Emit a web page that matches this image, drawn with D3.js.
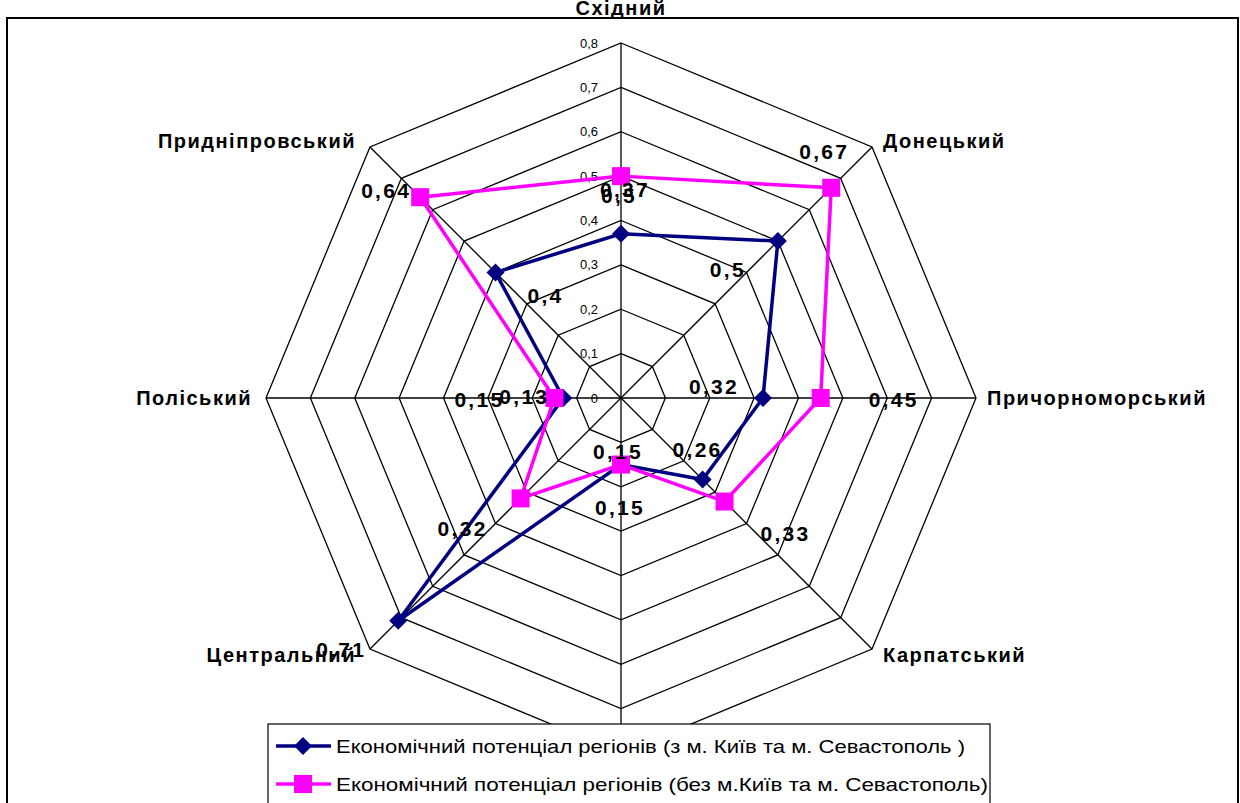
<!DOCTYPE html>
<html>
<head>
<meta charset="utf-8">
<script src="https://cdn.jsdelivr.net/npm/d3@7"></script>
<style>
  body { margin: 0; background: #fff; }
  svg { display: block; font-family: "Liberation Sans", Arial, sans-serif; }
</style>
</head>
<body>
<svg id="chart" width="1240" height="803"></svg>
<script>
// Economic regions of Ukraine, clockwise from the top axis
const regions = ["Східний", "Донецький", "Причорноморський", "Карпатський",
                 "Подільський", "Центральний", "Поліський", "Придніпровський"];

// Economic potential including Kyiv and Sevastopol
const withCities = [0.37, 0.5, 0.32, 0.26, 0.15, 0.71, 0.13, 0.4];
// Economic potential excluding Kyiv and Sevastopol
const withoutCities = [0.5, 0.67, 0.45, 0.33, 0.15, 0.32, 0.15, 0.64];

const seriesNames = [
  "Економічний потенціал регіонів (з м. Київ та м. Севастополь )",
  "Економічний потенціал регіонів (без м.Київ та м. Севастополь)"
];

const tickValues = [0, 0.1, 0.2, 0.3, 0.4, 0.5, 0.6, 0.7, 0.8];
const tickLabels = ["0", "0,1", "0,2", "0,3", "0,4", "0,5", "0,6", "0,7", "0,8"];

// Data label nudges (pixels from the marker) for each series
const nudgesWith = [[3, -44], [-51, 29], [-50, -11], [-6, -30], [-4, -13], [-58, 29], [-40, -1], [49, 23]];
const nudgesWithout = [[-3, 20], [-8, -36], [72, 2], [60, 32], [-2, 43], [-59, 30], [-76, 2], [-35, -7]];

const svg = d3.select("#chart");
const cx = 621, cy = 398, R = 355;
const r = d3.scaleLinear().domain([0, 0.8]).range([0, R]);
const angle = i => i * 2 * Math.PI / regions.length;
const pt = (i, v) => [cx + r(v) * Math.sin(angle(i)), cy - r(v) * Math.cos(angle(i))];

// outer chart frame
svg.append("rect").attr("x", 7).attr("y", 18).attr("width", 1231).attr("height", 900)
  .attr("fill", "#fff").attr("stroke", "#000").attr("stroke-width", 2);

const g = svg.append("g");

// octagonal grid rings
const ring = d3.lineRadial()
  .angle((d, i) => angle(i))
  .radius(d => r(d))
  .curve(d3.curveLinearClosed);

tickValues.filter(t => t > 0).forEach(t => {
  g.append("path")
    .attr("transform", `translate(${cx},${cy})`)
    .attr("d", ring(regions.map(() => t)))
    .attr("fill", "none").attr("stroke", "#000").attr("stroke-width", 1.3);
});

// spokes
regions.forEach((name, i) => {
  const [x, y] = pt(i, 0.8);
  g.append("line").attr("x1", cx).attr("y1", cy).attr("x2", x).attr("y2", y)
    .attr("stroke", "#000").attr("stroke-width", 1.3);
});

// value axis labels along the top spoke
g.selectAll("text.tick").data(tickValues).enter().append("text")
  .attr("class", "tick")
  .attr("x", cx - 23)
  .attr("y", d => cy - r(d))
  .attr("dy", "0.35em")
  .attr("text-anchor", "end")
  .attr("font-size", 13)
  .attr("fill", "#000")
  .text((d, i) => tickLabels[i]);

// series
const series = [
  { values: withCities, color: "#000080", shape: "diamond", nudges: nudgesWith },
  { values: withoutCities, color: "#ff00ff", shape: "square", nudges: nudgesWithout }
];

const lineGen = d3.line().curve(d3.curveLinearClosed);

function drawMarker(sel, shape, color, x, y) {
  if (shape === "diamond") {
    sel.append("path")
      .attr("d", `M${x},${y - 9}L${x + 9},${y}L${x},${y + 9}L${x - 9},${y}Z`)
      .attr("fill", color);
  } else {
    sel.append("rect").attr("x", x - 9).attr("y", y - 9).attr("width", 18).attr("height", 18)
      .attr("fill", color);
  }
}

series.forEach(s => {
  g.append("path")
    .attr("d", lineGen(s.values.map((v, i) => pt(i, v))))
    .attr("fill", "none").attr("stroke", s.color).attr("stroke-width", 3.5)
    .attr("stroke-linejoin", "miter");
});
series.forEach(s => {
  s.values.forEach((v, i) => {
    const [x, y] = pt(i, v);
    drawMarker(g, s.shape, s.color, x, y);
  });
});

// category labels outside the outer ring
regions.forEach((name, i) => {
  const a = angle(i);
  const [vx, vy] = pt(i, 0.8);
  const s = Math.sin(a), c = Math.cos(a);
  let x = vx, y = vy, anchor = "middle";
  if (Math.abs(s) < 1e-6) {
    y = c > 0 ? 15 : vy + 25;
  } else {
    anchor = s > 0 ? "start" : "end";
    x = vx + (s > 0 ? 11 : -14);
    y = vy - c * 9 + 7;
  }
  svg.append("text")
    .attr("x", x).attr("y", y)
    .attr("text-anchor", anchor)
    .attr("font-size", 20).attr("font-weight", "bold")
    .attr("letter-spacing", 1.5)
    .attr("fill", "#000")
    .text(name);
});

// data labels
const fmt = v => String(v).replace(".", ",");
series.forEach(s => {
  s.values.forEach((v, i) => {
    const [x, y] = pt(i, v);
    const [dx, dy] = s.nudges[i];
    svg.append("text")
      .attr("x", x + dx + 1).attr("y", y + dy)
      .attr("dy", "0.35em")
      .attr("text-anchor", "middle")
      .attr("font-size", 21).attr("font-weight", "bold")
      .attr("letter-spacing", 2.3)
      .attr("fill", "#000")
      .text(fmt(v));
  });
});

// legend
const lg = svg.append("g");
lg.append("rect").attr("x", 268).attr("y", 724).attr("width", 722).attr("height", 120)
  .attr("fill", "#fff").attr("stroke", "#000").attr("stroke-width", 1.2);
series.forEach((s, k) => {
  const y = 746 + k * 38;
  lg.append("line").attr("x1", 276).attr("x2", 331).attr("y1", y).attr("y2", y)
    .attr("stroke", s.color).attr("stroke-width", 3.5);
  drawMarker(lg, s.shape, s.color, 303, y);
  lg.append("text")
    .attr("x", 336).attr("y", y + 7)
    .attr("font-size", 19)
    .attr("textLength", k === 0 ? 629 : 652)
    .attr("lengthAdjust", "spacingAndGlyphs")
    .attr("fill", "#000")
    .text(seriesNames[k]);
});
</script>
</body>
</html>
